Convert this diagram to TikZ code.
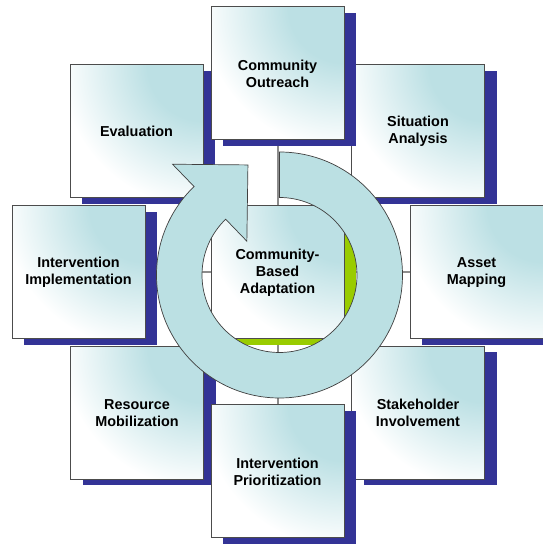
\documentclass[tikz,border=0pt]{standalone}
\usepackage{fontspec}
\setmainfont{Liberation Sans}
\usetikzlibrary{shadows}
\definecolor{boxblue}{RGB}{188,224,228}
\definecolor{shadowblue}{RGB}{51,51,150}
\definecolor{hubgreen}{RGB}{153,204,0}
\definecolor{ringfill}{RGB}{187,224,227}
\definecolor{spokegray}{RGB}{140,140,140}
% soft blue glow spreading from a box's upper right corner
\pgfdeclareradialshading{cornerglow}{\pgfpointorigin}{color(0bp)=(boxblue); color(9bp)=(boxblue); color(23bp)=(white); color(25bp)=(white); color(50bp)=(white)}
\pgfdeclarelayer{background}
\pgfsetlayers{background,main}

\begin{document}
\begin{tikzpicture}[x=1pt,y=1pt,
  stagebox/.style={draw=black!70, line width=1pt, fill=white,
    minimum width=133pt, minimum height=133pt, inner sep=0pt, outer sep=0pt,
    align=center, font=\bfseries\fontsize{14.4}{17}\selectfont,
    path picture={\shade[shading=cornerglow] (path picture bounding box.north east) circle (155pt);}},
  bluedrop/.style={general shadow={fill=shadowblue, shadow xshift=12pt, shadow yshift=-6pt}},
  greendrop/.style={general shadow={fill=hubgreen, shadow xshift=12pt, shadow yshift=-6pt}},
  spoke/.style={draw=spokegray, line width=2pt},
  cyclearrow/.style={fill=ringfill, draw=black!75, line width=0.7pt}]

\useasboundingbox (0,0) rectangle (543,544);

% diagonal stages
\node[stagebox, bluedrop] (situation)   at (418,412.5) {Situation\\Analysis};
\node[stagebox, bluedrop] (stakeholder) at (418,131)   {Stakeholder\\Involvement};
\node[stagebox, bluedrop] (resource)    at (137,131)   {Resource\\Mobilization};
\node[stagebox, bluedrop] (evaluate)    at (136.5,412.5) {Evaluation};

% stages on the axes
\node[stagebox, bluedrop] (outreach)    at (277.5,470.5) {Community\\Outreach};
\node[stagebox, bluedrop] (asset)       at (476.5,271.5) {Asset\\Mapping};
\node[stagebox, bluedrop] (prioritize)  at (277.5,72.5)  {Intervention\\Prioritization};
\node[stagebox, bluedrop] (implement)   at (78.5,271.5)  {Intervention\\Implementation};

% hub
\node[stagebox, greendrop] (core) at (277.5,271.5) {Community-\\Based\\Adaptation};

% spokes behind everything
\begin{pgfonlayer}{background}
  \fill[white] (0,0) rectangle (543,544);
  \draw[spoke] (core) -- (outreach);
  \draw[spoke] (core) -- (prioritize);
  \draw[spoke] (core) -- (implement);
  \draw[spoke] (core) -- (asset);
\end{pgfonlayer}

% circular arrow around the hub
\coordinate (pivot) at (279.5,269);
\path[cyclearrow] ([shift={(90:123)}]pivot)
  arc[start angle=90, end angle=-226, radius=123pt]
  -- ([shift={(134:154)}]pivot)
  -- ([shift={(106:114.5)}]pivot)
  -- ([shift={(134:47)}]pivot)
  -- ([shift={(134:77.5)}]pivot)
  arc[start angle=-226, end angle=90, radius=77.5pt]
  -- cycle;
\end{tikzpicture}
\end{document}
